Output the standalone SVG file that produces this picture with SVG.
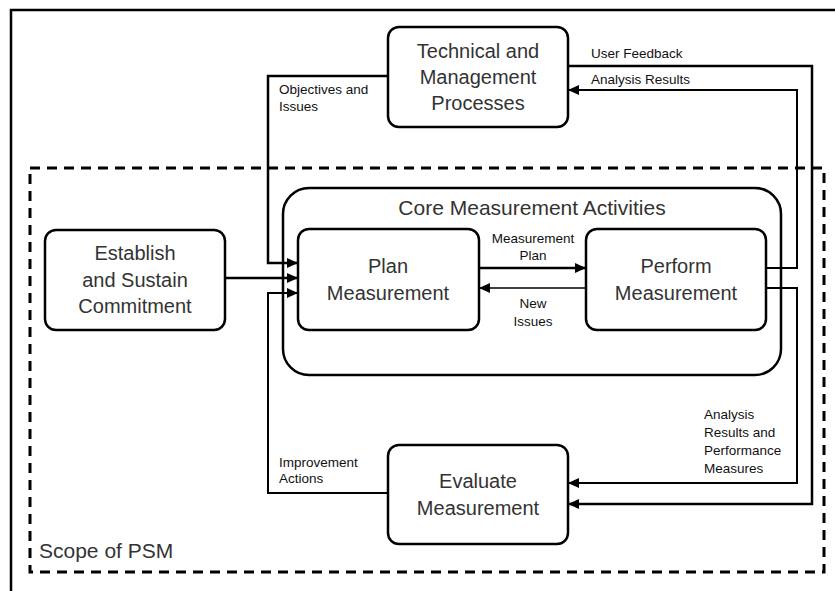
<svg xmlns="http://www.w3.org/2000/svg" width="835" height="591" viewBox="0 0 835 591">
<style>
.box{fill:#fff;stroke:#000;stroke-width:2.5}
.big{font-family:"Liberation Sans",Arial,sans-serif;font-size:20px;fill:#333;text-anchor:middle}
.sm{font-family:"Liberation Sans",Arial,sans-serif;font-size:13.5px;fill:#111}
.c{fill:none;stroke:#000;stroke-width:2.5}
.m{fill:none;stroke:#000;stroke-width:2}
.t{fill:none;stroke:#000;stroke-width:1.5}
</style>
<defs>
<marker id="ah" markerUnits="userSpaceOnUse" markerWidth="12" markerHeight="12" viewBox="0 0 12 12" refX="11" refY="6" orient="auto">
<path d="M0,1 L11,6 L0,11 z" fill="#000"/>
</marker>
</defs>
<rect x="0" y="0" width="835" height="591" fill="#fff"/>
<path d="M11,591 V10 H835" fill="none" stroke="#000" stroke-width="2.5"/>
<g id="scope">
<rect x="30" y="168" width="794" height="404" fill="none" stroke="#000" stroke-width="3" stroke-dasharray="10,7"/>
<text x="39" y="558" class="big" style="text-anchor:start;font-size:21px">Scope of PSM</text>
</g>
<g id="core">
<rect x="283" y="188" width="498" height="187" rx="26" class="box"/>
<text x="532" y="215" class="big" style="font-size:21px">Core Measurement Activities</text>
</g>
<g id="technical">
<rect x="388" y="27" width="180" height="100" rx="11" class="box"/>
<text x="478" y="58" class="big">Technical and</text>
<text x="478" y="84" class="big">Management</text>
<text x="478" y="110" class="big">Processes</text>
</g>
<g id="establish">
<rect x="45" y="230" width="180" height="100" rx="11" class="box"/>
<text x="135" y="260" class="big">Establish</text>
<text x="135" y="287" class="big">and Sustain</text>
<text x="135" y="313" class="big">Commitment</text>
</g>
<g id="plan">
<rect x="298" y="229" width="181" height="101" rx="11" class="box"/>
<text x="388" y="273" class="big">Plan</text>
<text x="388" y="300" class="big">Measurement</text>
</g>
<g id="perform">
<rect x="586" y="229" width="180" height="101" rx="11" class="box"/>
<text x="676" y="273" class="big">Perform</text>
<text x="676" y="300" class="big">Measurement</text>
</g>
<g id="evaluate">
<rect x="388" y="445" width="180" height="99" rx="11" class="box"/>
<text x="478" y="488" class="big">Evaluate</text>
<text x="478" y="515" class="big">Measurement</text>
</g>
<g id="connectors">
<path d="M388,76 H268 V263 H298" class="c" marker-end="url(#ah)"/>
<path d="M225,278 H298" class="c" marker-end="url(#ah)"/>
<path d="M388,493 H268 V293 H298" class="m" marker-end="url(#ah)"/>
<path d="M479,268 H586" class="c" marker-end="url(#ah)"/>
<path d="M586,288 H479" class="t" marker-end="url(#ah)"/>
<path d="M766,268 H797 V90 H568" class="m" marker-end="url(#ah)"/>
<path d="M568,66 H812 V504 H568" class="c" marker-end="url(#ah)"/>
<path d="M766,288 H797 V483 H568" class="m" marker-end="url(#ah)"/>
<text x="279" y="94" class="sm">Objectives and</text>
<text x="279" y="111" class="sm">Issues</text>
<text x="591" y="58" class="sm">User Feedback</text>
<text x="591" y="84" class="sm">Analysis  Results</text>
<text x="533" y="243" class="sm" text-anchor="middle">Measurement</text>
<text x="533" y="260" class="sm" text-anchor="middle">Plan</text>
<text x="533" y="308" class="sm" text-anchor="middle">New</text>
<text x="533" y="326" class="sm" text-anchor="middle">Issues</text>
<text x="279" y="467" class="sm">Improvement</text>
<text x="279" y="483" class="sm">Actions</text>
<text x="704" y="419" class="sm">Analysis</text>
<text x="704" y="437" class="sm">Results and</text>
<text x="704" y="455" class="sm">Performance</text>
<text x="704" y="473" class="sm">Measures</text>
</g>
</svg>
